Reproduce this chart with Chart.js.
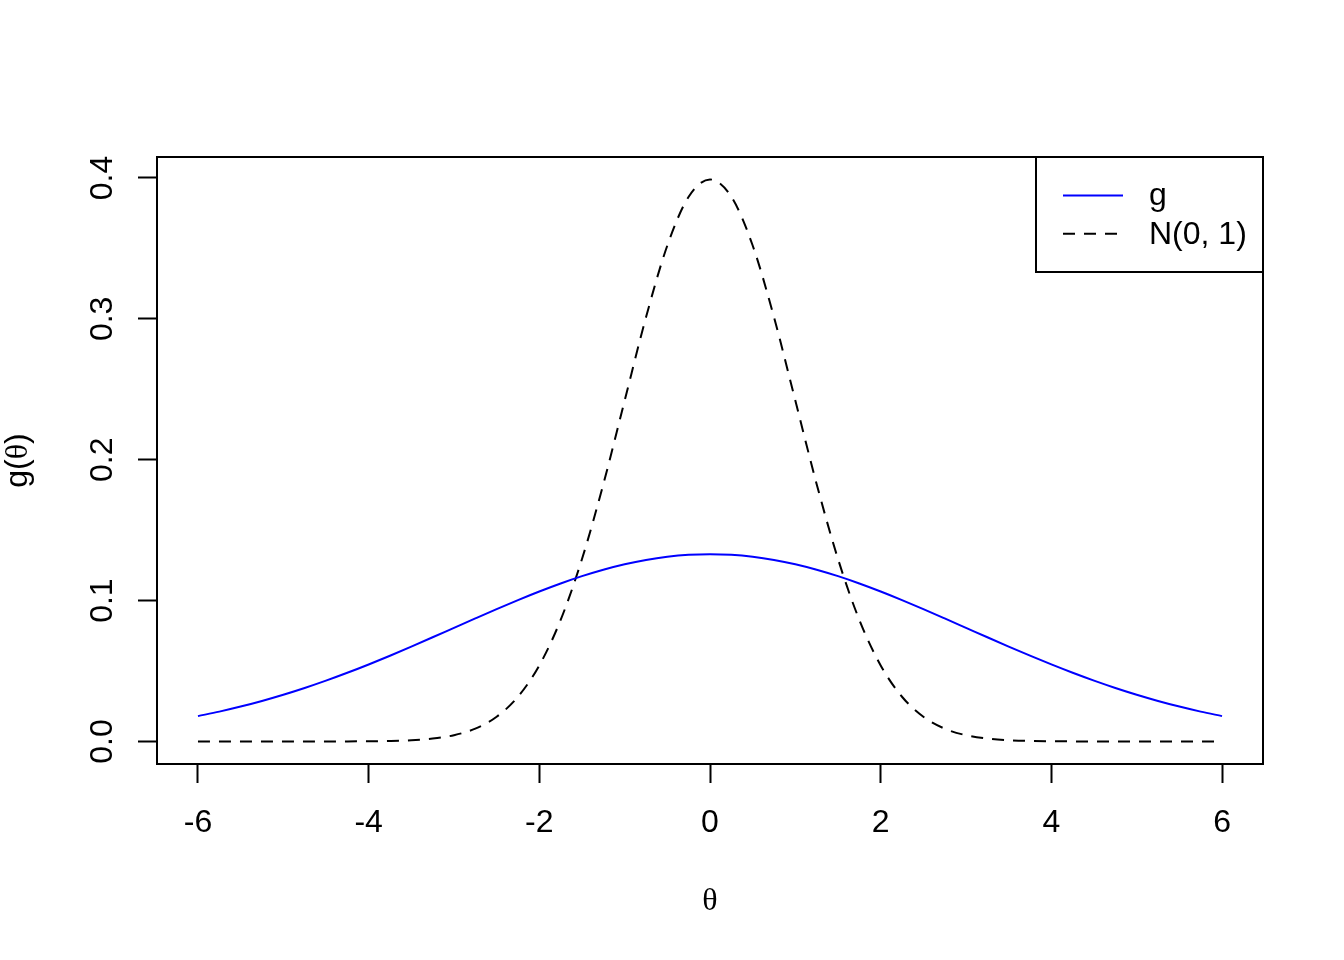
<!DOCTYPE html>
<html>
<head>
<meta charset="utf-8">
<title>g(θ) vs N(0, 1)</title>
<script src="https://cdn.jsdelivr.net/npm/chart.js@4/dist/chart.umd.min.js"></script>
<style>
    html, body { margin: 0; padding: 0; background: #ffffff; }
    canvas { display: block; }
</style>
</head>
<body>
<canvas id="densityChart" width="1344" height="960"></canvas>
<script>
const thetaGrid = [
    -6, -5.75, -5.5, -5.25, -5, -4.75, -4.5, -4.25, -4, -3.75, -3.5, -3.25,
    -3, -2.75, -2.5, -2.25, -2, -1.75, -1.5, -1.25, -1, -0.75, -0.5, -0.25,
    0,
    0.25, 0.5, 0.75, 1, 1.25, 1.5, 1.75, 2, 2.25, 2.5, 2.75, 3,
    3.25, 3.5, 3.75, 4, 4.25, 4.5, 4.75, 5, 5.25, 5.5, 5.75, 6
];

const gValues = [
    0.01800, 0.02118, 0.02477, 0.02876, 0.03316, 0.03797, 0.04317, 0.04875,
    0.05467, 0.06088, 0.06733, 0.07395, 0.08066, 0.08736, 0.09397, 0.10038,
    0.10648, 0.11218, 0.11735, 0.12192, 0.12579, 0.12889, 0.13115, 0.13252,
    0.13298,
    0.13252, 0.13115, 0.12889, 0.12579, 0.12192, 0.11735, 0.11218, 0.10648,
    0.10038, 0.09397, 0.08736, 0.08066, 0.07395, 0.06733, 0.06088, 0.05467,
    0.04875, 0.04317, 0.03797, 0.03316, 0.02876, 0.02477, 0.02118, 0.01800
];

const normalValues = [
    0, 0, 0, 0, 0, 0.00001, 0.00002, 0.00005,
    0.00013, 0.00035, 0.00087, 0.00203, 0.00443, 0.00909, 0.01753, 0.03174,
    0.05399, 0.08628, 0.12952, 0.18265, 0.24197, 0.30114, 0.35207, 0.38667,
    0.39894,
    0.38667, 0.35207, 0.30114, 0.24197, 0.18265, 0.12952, 0.08628, 0.05399,
    0.03174, 0.01753, 0.00909, 0.00443, 0.00203, 0.00087, 0.00035, 0.00013,
    0.00005, 0.00002, 0.00001, 0, 0, 0, 0, 0
];

const seriesNames = ["g", "N(0, 1)"];
const xTickValues = [-6, -4, -2, 0, 2, 4, 6];
const yTickValues = [0, 0.1, 0.2, 0.3, 0.4];

const sansFont = "'Liberation Sans', Arial, Helvetica, sans-serif";
const serifFont = "'Liberation Serif', 'Times New Roman', serif";
const fontSize = 32;
const tickLength = 19;

function toPoints(values) {
    return thetaGrid.map((theta, i) => ({ x: theta, y: values[i] }));
}

// box, rotated y labels, axis titles and the legend, R style
const baseGraphicsPlugin = {
    id: "baseGraphics",
    afterDraw(chart) {
        const { ctx, chartArea, scales } = chart;
        const yScale = scales.y;
        const xScale = scales.x;

        ctx.save();
        ctx.strokeStyle = "#000000";
        ctx.lineWidth = 2;
        ctx.strokeRect(chartArea.left, chartArea.top, chartArea.right - chartArea.left, chartArea.bottom - chartArea.top);

        ctx.fillStyle = "#000000";
        ctx.font = `${fontSize}px ${sansFont}`;
        ctx.textAlign = "center";
        ctx.textBaseline = "alphabetic";
        yTickValues.forEach((value) => {
            const py = yScale.getPixelForValue(value);
            ctx.save();
            ctx.translate(112, py);
            ctx.rotate(-Math.PI / 2);
            ctx.fillText(value.toFixed(1), 0, 0);
            ctx.restore();
        });

        // x title
        ctx.font = `${fontSize}px ${serifFont}`;
        ctx.fillText("θ", xScale.getPixelForValue(0), 910);

        // y title g(θ) with serif theta
        const midY = (chartArea.top + chartArea.bottom) / 2;
        const parts = [
            { text: "g(", font: `${fontSize}px ${sansFont}` },
            { text: "θ", font: `${fontSize}px ${serifFont}` },
            { text: ")", font: `${fontSize}px ${sansFont}` }
        ];
        let total = 0;
        parts.forEach((part) => {
            ctx.font = part.font;
            part.width = ctx.measureText(part.text).width;
            total += part.width;
        });
        ctx.save();
        ctx.translate(27, midY);
        ctx.rotate(-Math.PI / 2);
        ctx.textAlign = "left";
        let offset = -total / 2;
        parts.forEach((part) => {
            ctx.font = part.font;
            ctx.fillText(part.text, offset, 0);
            offset += part.width;
        });
        ctx.restore();

        // legend
        const legendLeft = 1036;
        const legendTop = chartArea.top;
        const legendRight = chartArea.right;
        const legendBottom = 272;
        ctx.lineWidth = 2;
        ctx.strokeRect(legendLeft, legendTop, legendRight - legendLeft, legendBottom - legendTop);

        ctx.font = `${fontSize}px ${sansFont}`;
        ctx.textAlign = "left";
        ctx.textBaseline = "middle";
        chart.data.datasets.forEach((dataset, i) => {
            const rowY = legendTop + 38.4 * (i + 1);
            ctx.save();
            ctx.strokeStyle = dataset.borderColor;
            ctx.lineWidth = dataset.borderWidth;
            ctx.setLineDash(dataset.borderDash || []);
            ctx.beginPath();
            ctx.moveTo(1063, rowY);
            ctx.lineTo(1123, rowY);
            ctx.stroke();
            ctx.restore();
            ctx.fillStyle = "#000000";
            ctx.fillText(dataset.label, 1149, rowY + 1);
        });

        ctx.restore();
    }
};

const chart = new Chart(document.getElementById("densityChart"), {
    type: "line",
    data: {
        datasets: [
            {
                label: seriesNames[0],
                data: toPoints(gValues),
                borderColor: "#0000ff",
                borderWidth: 2,
                pointRadius: 0,
                cubicInterpolationMode: "monotone",
                fill: false
            },
            {
                label: seriesNames[1],
                data: toPoints(normalValues),
                borderColor: "#000000",
                borderWidth: 2,
                borderDash: [12, 9],
                pointRadius: 0,
                cubicInterpolationMode: "monotone",
                fill: false
            }
        ]
    },
    options: {
        responsive: false,
        devicePixelRatio: 1,
        animation: false,
        layout: {
            padding: { left: 157, top: 157, right: 81, bottom: 0 }
        },
        plugins: {
            legend: { display: false },
            title: { display: false },
            tooltip: { enabled: false }
        },
        scales: {
            x: {
                type: "linear",
                min: -6.48,
                max: 6.48,
                afterFit: (scale) => { scale.height = 196; },
                afterBuildTicks: (scale) => {
                    scale.ticks = xTickValues.map((value) => ({ value }));
                },
                border: { display: false },
                grid: {
                    drawOnChartArea: false,
                    drawTicks: true,
                    tickLength: tickLength,
                    tickColor: "#000000",
                    tickWidth: 2
                },
                ticks: {
                    color: "#000000",
                    padding: 21,
                    maxRotation: 0,
                    autoSkip: false,
                    font: { family: sansFont, size: fontSize },
                    callback: (value) => `${value}`
                }
            },
            y: {
                type: "linear",
                min: -0.016,
                max: 0.4149,
                afterFit: (scale) => { scale.width = 0; },
                afterBuildTicks: (scale) => {
                    scale.ticks = yTickValues.map((value) => ({ value }));
                },
                border: { display: false },
                grid: {
                    drawOnChartArea: false,
                    drawTicks: true,
                    tickLength: tickLength,
                    tickColor: "#000000",
                    tickWidth: 2
                },
                ticks: {
                    display: false
                }
            }
        }
    },
    plugins: [baseGraphicsPlugin]
});
</script>
</body>
</html>
